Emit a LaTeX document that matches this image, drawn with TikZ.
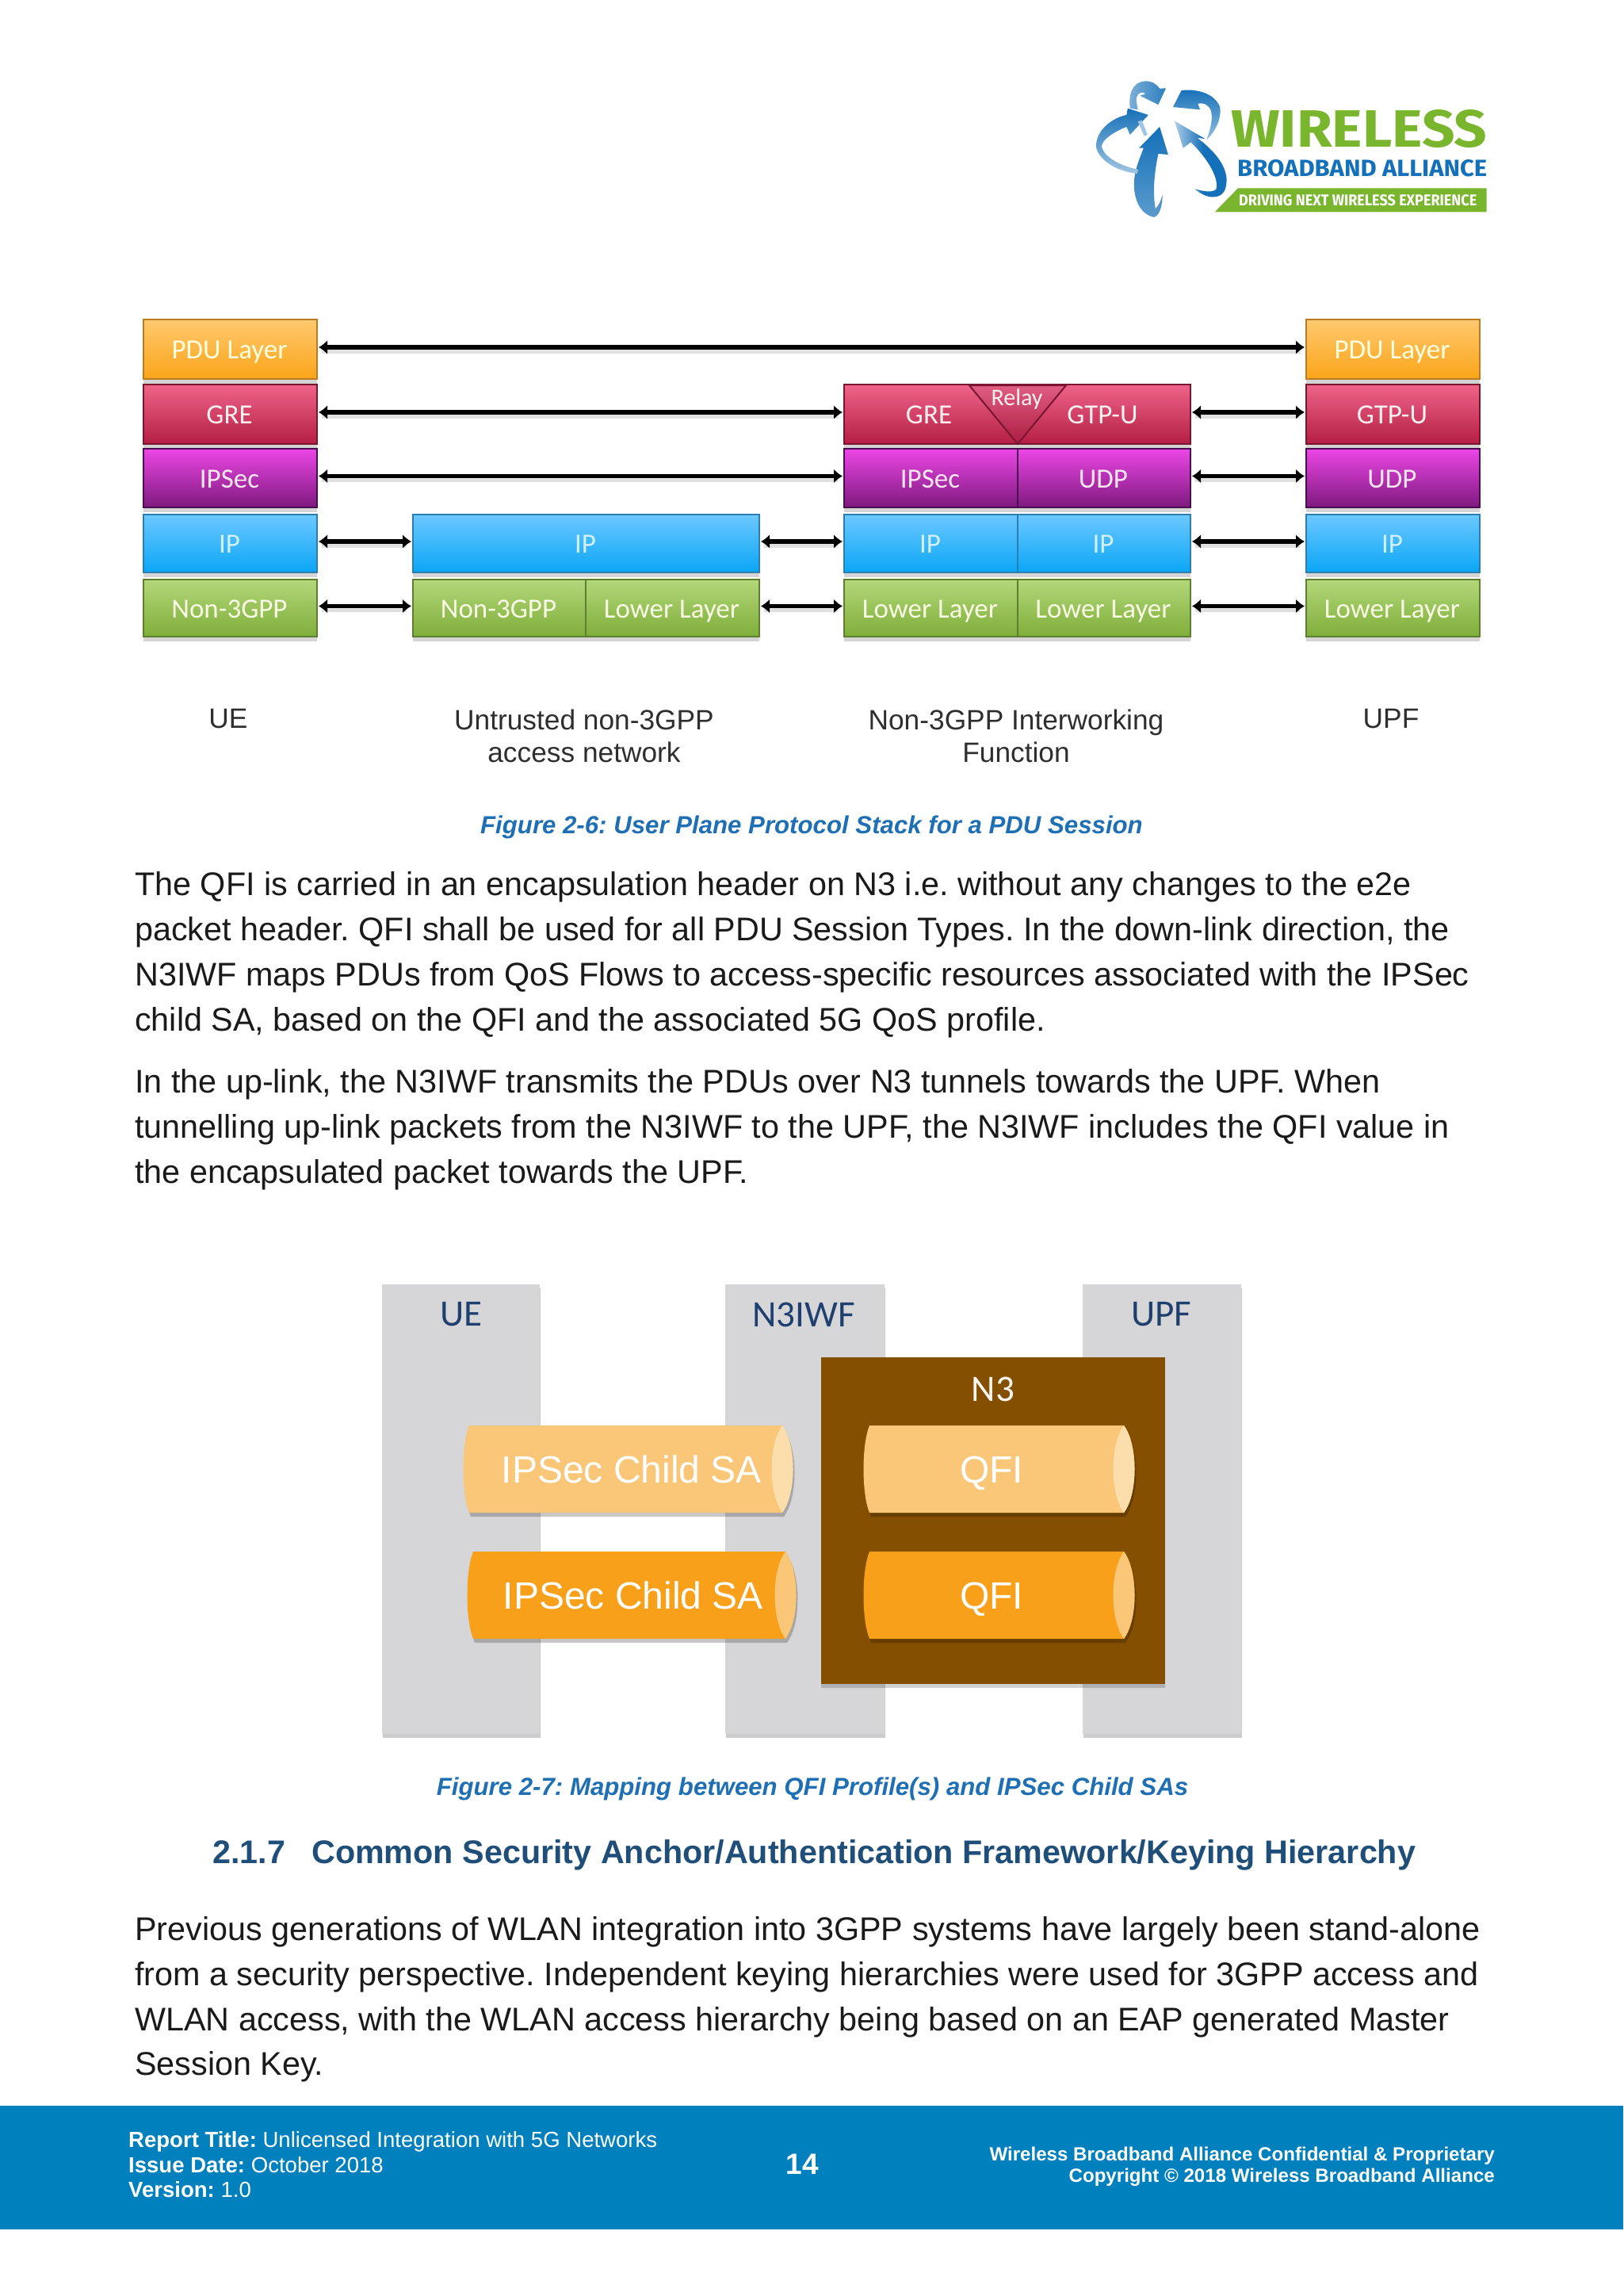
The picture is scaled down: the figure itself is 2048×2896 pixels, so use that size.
\documentclass[tikz,border=0pt]{standalone}
\usepackage{fontspec}
\usepackage{graphicx}
\setmainfont{Liberation Sans}
\newfontfamily\carl{Carlito}
\newfontfamily\logof{Fira Sans}
\usetikzlibrary{arrows.meta,shadows,calc}
\frenchspacing
\definecolor{pduT}{HTML}{FFC96F}\definecolor{pduB}{HTML}{FBA519}\definecolor{pduD}{HTML}{B97C22}
\definecolor{greT}{HTML}{EE6488}\definecolor{greB}{HTML}{B51E45}\definecolor{greD}{HTML}{7A1530}
\definecolor{secT}{HTML}{EC46E6}\definecolor{secB}{HTML}{7E1A7E}\definecolor{secD}{HTML}{4A0E50}
\definecolor{ipT}{HTML}{6CC8FF}\definecolor{ipB}{HTML}{0AA6F6}\definecolor{ipD}{HTML}{2A7FB0}
\definecolor{lowT}{HTML}{B3D77A}\definecolor{lowB}{HTML}{7FAE3A}\definecolor{lowD}{HTML}{5F7F30}
\definecolor{capblue}{HTML}{1E6FB4}\definecolor{headblue}{HTML}{1F4E79}\definecolor{footblue}{HTML}{0080BC}
\definecolor{panel}{HTML}{D6D6D9}\definecolor{brownbox}{HTML}{845000}\definecolor{navy}{HTML}{1F3F6E}
\definecolor{cylA}{HTML}{FAC678}\definecolor{cylAe}{HTML}{FCDDAC}\definecolor{cylB}{HTML}{F9A01B}\definecolor{cylBe}{HTML}{FAC678}
\definecolor{logoblue}{HTML}{1470B8}\definecolor{logogreen}{HTML}{7AB52E}\definecolor{bodyink}{HTML}{1A1A1A}
\tikzset{
  x=1pt,y=-1pt,
  stackfont/.style={font=\carl\fontsize{35}{35}\selectfont,text height=26pt,text depth=2pt},
  stackbase/.style={rectangle,inner sep=0pt,outer sep=0pt,line width=2pt,anchor=north west,stackfont,
    drop shadow={shadow xshift=0pt,shadow yshift=-6pt,opacity=.17,fill=black}},
  pdubox/.style={stackbase,draw=pduD,top color=pduT,bottom color=pduB,text=yellow!12},
  grebox/.style={stackbase,draw=greD,top color=greT,bottom color=greB,text=red!6},
  secbox/.style={stackbase,draw=secD,top color=secT,bottom color=secB,text=magenta!10},
  ipbox/.style={stackbase,draw=ipD,top color=ipT,bottom color=ipB,text=cyan!18},
  lowbox/.style={stackbase,draw=lowD,top color=lowT,bottom color=lowB,text=yellow!12!lime!10},
  bidi/.style={line width=5.5pt,black,{Latex[length=11pt,width=18pt]}-{Latex[length=11pt,width=18pt]}},
  bidishadow/.style={line width=6pt,black,opacity=.12},
  panelbox/.style={rectangle,inner sep=0pt,outer sep=0pt,anchor=north west,fill=panel,
    drop shadow={shadow xshift=1pt,shadow yshift=-5pt,opacity=.2,fill=black}},
  brownpanel/.style={rectangle,inner sep=0pt,outer sep=0pt,anchor=north west,fill=brownbox,
    drop shadow={shadow xshift=0pt,shadow yshift=-5pt,opacity=.18,fill=black}},
  bodytext/.style={anchor=base west,inner sep=0pt,text=bodyink,font=\fontsize{41.33}{41.33}\selectfont},
  figcap/.style={anchor=center,inner sep=0pt,text=capblue,font=\bfseries\itshape\fontsize{31.2}{31.2}\selectfont},
  lbl/.style={anchor=center,inner sep=0pt,text=black!82,align=center,font=\fontsize{35.3}{41}\selectfont},
  sttl/.style={anchor=center,inner sep=0pt,text=navy,font=\carl\fontsize{47}{47}\selectfont},
  cyltxt/.style={anchor=center,inner sep=0pt,text=white,font=\fontsize{48}{48}\selectfont,text height=36pt,text depth=2pt},
  foot/.style={anchor=base west,inner sep=0pt,text=white,font=\fontsize{27.55}{27.55}\selectfont},
  footr/.style={anchor=base east,inner sep=0pt,text=white,font=\bfseries\fontsize{24.1}{24.1}\selectfont},
  logotxt/.style={anchor=south west,inner sep=0pt},
}
\newcommand\stackbox[7]{\node[#6,minimum width=\the\numexpr#4-#2\relax pt,minimum height=\the\numexpr#5-#3\relax pt] (#1) at (#2,#3) {\kern-2pt #7};}
\newcommand\bidiarrow[2]{%
  \draw[bidishadow] ([shift={(6pt,-2pt)}]#1.east) -- ([shift={(-8pt,-2pt)}]#2.west);
  \draw[bidi] ([shift={(2pt,2.5pt)}]#1.east) -- ([shift={(-2pt,2.5pt)}]#2.west);}
\newcommand\cyl[6]{% x1, xc(end centre), y1, y2, body, end
  \pgfmathsetmacro\cA{#1+10}\pgfmathsetmacro\cH{#4-#3}
  \pgfmathsetmacro\cU{#3+.22*\cH}\pgfmathsetmacro\cL{#3+.78*\cH}
  \pgfmathsetmacro\cR{#2+18}\pgfmathsetmacro\cQ{#2-18}
  \fill[black,opacity=.22,shift={(2pt,-5pt)}] (\cA,#3) -- (#2,#3) .. controls (\cR,\cU) and (\cR,\cL) .. (#2,#4) -- (\cA,#4) .. controls (#1,\cL) and (#1,\cU) .. (\cA,#3) -- cycle;
  \fill[#5] (\cA,#3) -- (#2,#3) .. controls (\cR,\cU) and (\cR,\cL) .. (#2,#4) -- (\cA,#4) .. controls (#1,\cL) and (#1,\cU) .. (\cA,#3) -- cycle;
  \fill[#6] (#2,#3) .. controls (\cR,\cU) and (\cR,\cL) .. (#2,#4) .. controls (\cQ,\cL) and (\cQ,\cU) .. (#2,#3) -- cycle;}
\begin{document}
\begin{tikzpicture}
\useasboundingbox (0,0) rectangle (2048,2896);
\fill[white] (0,0) rectangle (2048,2896);
% ---- logo
\begin{scope}[shift={(1340pt,-70pt)},xscale=0.357,yscale=0.3333]
\shade[top color=logoblue,bottom color=logoblue!70] (345,270) -- (375,375) -- (340,372) .. controls (325,450) and (320,520) .. (330,580) .. controls (340,570) and (350,550) .. (355,525) .. controls (355,570) and (345,605) .. (325,612) .. controls (270,600) and (250,530) .. (255,470) .. controls (260,420) and (275,390) .. (288,350) -- (272,350) -- cycle;
\shade[left color=logoblue!35,right color=logoblue,middle color=logoblue] (398,248) -- (505,315) -- (478,312) .. controls (550,370) and (600,440) .. (575,510) .. controls (560,545) and (510,545) .. (470,505) .. controls (500,515) and (535,520) .. (545,505) .. controls (555,460) and (510,385) .. (455,328) -- (428,350) -- cycle;
\shade[top color=logoblue,bottom color=logoblue!45] (392,195) -- (422,132) .. controls (480,125) and (540,145) .. (558,195) .. controls (565,240) and (540,290) .. (510,320) .. controls (525,280) and (535,235) .. (525,205) .. controls (515,185) and (500,178) .. (480,182) -- (488,205) -- cycle;
\shade[top color=logoblue,bottom color=logoblue!40] (305,225) -- (240,300) -- (228,270) .. controls (180,290) and (140,320) .. (140,345) .. controls (150,390) and (215,420) .. (270,432) -- (265,447) .. controls (200,440) and (130,400) .. (120,345) .. controls (120,280) and (180,235) .. (228,225) -- (232,200) -- cycle;
\shade[left color=logoblue!55,right color=logoblue!90] (367,124) -- (340,186) -- (275,152) -- (295,145) .. controls (275,130) and (262,150) .. (262,170) -- (268,205) -- (240,200) .. controls (235,150) and (245,100) .. (295,97) .. controls (320,97) and (335,110) .. (345,125) -- cycle;
\fill[logoblue!40] (268,250) -- (282,245) -- (302,300) -- (290,305) -- cycle;
\fill[logogreen] (540,592) -- (622,502) -- (1500,502) -- (1500,592) -- cycle;
\end{scope}
\node[logotxt] (logow) at (1553,187) {\resizebox{323pt}{47pt}{\logof\bfseries\color{logogreen}WIRELESS}};
\node[logotxt] (logob) at (1561,223) {\resizebox{315pt}{21pt}{\logof\bfseries\color{logoblue}BROADBAND ALLIANCE}};
\node[logotxt] (logod) at (1563,260) {\resizebox{300pt}{14pt}{\logof\bfseries\color{white}DRIVING NEXT WIRELESS EXPERIENCE}};
% ---- figure 2-6
\stackbox{uepdu}{181}{403}{400}{478}{pdubox}{PDU Layer}
\stackbox{uegre}{181}{485}{400}{560}{grebox}{GRE}
\stackbox{uesec}{181}{566}{400}{640}{secbox}{IPSec}
\stackbox{ueip}{181}{649}{400}{722}{ipbox}{IP}
\stackbox{uelow}{181}{731}{400}{803}{lowbox}{Non-3GPP}
\stackbox{anip}{521}{649}{958}{722}{ipbox}{IP}
\stackbox{anlowa}{521}{731}{739}{803}{lowbox}{Non-3GPP}
\stackbox{anlowb}{739}{731}{958}{803}{lowbox}{Lower Layer}
\stackbox{ngre}{1065}{485}{1502}{560}{grebox}{}
\draw[greD,line width=2pt,fill=black,fill opacity=.05] (1223,486) -- (1284,560) -- (1345,486) -- cycle;
\node[anchor=center,inner sep=0pt,text=red!6,font=\carl\fontsize{30}{30}\selectfont] (relay) at (1283,503) {Relay};
\node[anchor=center,inner sep=0pt,text=red!6,stackfont] (ngretxt) at (1172,522) {GRE};
\node[anchor=center,inner sep=0pt,text=red!6,stackfont] (ngtptxt) at (1391,522) {GTP-U};
\stackbox{nseca}{1065}{566}{1284}{640}{secbox}{IPSec}
\stackbox{nsecb}{1284}{566}{1502}{640}{secbox}{UDP}
\stackbox{nipa}{1065}{649}{1284}{722}{ipbox}{IP}
\stackbox{nipb}{1284}{649}{1502}{722}{ipbox}{IP}
\stackbox{nlowa}{1065}{731}{1284}{803}{lowbox}{Lower Layer}
\stackbox{nlowb}{1284}{731}{1502}{803}{lowbox}{Lower Layer}
\stackbox{upfpdu}{1648}{403}{1867}{478}{pdubox}{PDU Layer}
\stackbox{upfgre}{1648}{485}{1867}{560}{grebox}{GTP-U}
\stackbox{upfudp}{1648}{566}{1867}{640}{secbox}{UDP}
\stackbox{upfip}{1648}{649}{1867}{722}{ipbox}{IP}
\stackbox{upflow}{1648}{731}{1867}{803}{lowbox}{Lower Layer}
\bidiarrow{uepdu}{upfpdu}
\bidiarrow{uegre}{ngre}
\bidiarrow{uesec}{nseca}
\bidiarrow{ueip}{anip}
\bidiarrow{uelow}{anlowa}
\bidiarrow{anip}{nipa}
\bidiarrow{anlowb}{nlowa}
\bidiarrow{ngre}{upfgre}
\bidiarrow{nsecb}{upfudp}
\bidiarrow{nipb}{upfip}
\bidiarrow{nlowb}{upflow}
\node[lbl] (lue) at (288,907) {UE};
\node[lbl] (lan) at (737,928) {Untrusted non-3GPP\\access network};
\node[lbl] (ln3) at (1282,928) {Non-3GPP Interworking\\Function};
\node[lbl] (lupf) at (1755,907) {UPF};
\node[figcap] (cap6) at (1024,1043) {Figure 2-6: User Plane Protocol Stack for a PDU Session};
% ---- body 1
\node[bodytext] (b1) at (170,1129) {The QFI is carried in an encapsulation header on N3 i.e. without any changes to the e2e};
\node[bodytext] (b2) at (170,1186) {packet header. QFI shall be used for all PDU Session Types. In the down-link direction, the};
\node[bodytext] (b3) at (170,1243) {N3IWF maps PDUs from QoS Flows to access-specific resources associated with the IPSec};
\node[bodytext] (b4) at (170,1300) {child SA, based on the QFI and the associated 5G QoS profile.};
\node[bodytext] (b5) at (170,1378) {In the up-link, the N3IWF transmits the PDUs over N3 tunnels towards the UPF. When};
\node[bodytext] (b6) at (170,1435) {tunnelling up-link packets from the N3IWF to the UPF, the N3IWF includes the QFI value in};
\node[bodytext] (b7) at (170,1492) {the encapsulated packet towards the UPF.};
% ---- figure 2-7
\node[panelbox,minimum width=199pt,minimum height=567pt] (pue) at (482,1620) {};
\node[panelbox,minimum width=201pt,minimum height=567pt] (pn3iwf) at (915,1620) {};
\node[panelbox,minimum width=200pt,minimum height=567pt] (pupf) at (1366,1620) {};
\node[brownpanel,minimum width=434pt,minimum height=412pt] (pn3) at (1036,1712) {};
\node[sttl] (tue) at (582,1658) {UE};
\node[sttl] (tn3iwf) at (1014,1658) {N3IWF};
\node[sttl] (tupf) at (1465,1658) {UPF};
\node[sttl,text=white!92!brown] (tn3) at (1253,1752) {N3};
\cyl{582}{987}{1798}{1908}{cylA}{cylAe}
\cyl{587}{991}{1957}{2067}{cylB}{cylBe}
\cyl{1087}{1418}{1798}{1908}{cylA}{cylAe}
\cyl{1087}{1418}{1957}{2067}{cylB}{cylBe}
\node[cyltxt] (c1) at (797,1853) {IPSec Child SA};
\node[cyltxt] (c2) at (799,2012) {IPSec Child SA};
\node[cyltxt] (c3) at (1251,1853) {QFI};
\node[cyltxt] (c4) at (1251,2012) {QFI};
\node[figcap] (cap7) at (1025,2256) {Figure 2-7: Mapping between QFI Profile(s) and IPSec Child SAs};
\node[anchor=base west,inner sep=0pt,text=headblue,font=\bfseries\fontsize{41.3}{41.3}\selectfont] (hnum) at (268,2350) {2.1.7};
\node[anchor=base west,inner sep=0pt,text=headblue,font=\bfseries\fontsize{41.3}{41.3}\selectfont] (htxt) at (393,2350) {Common Security Anchor/Authentication Framework/Keying Hierarchy};
\node[bodytext] (b8) at (170,2447) {Previous generations of WLAN integration into 3GPP systems have largely been stand-alone};
\node[bodytext] (b9) at (170,2504) {from a security perspective. Independent keying hierarchies were used for 3GPP access and};
\node[bodytext] (b10) at (170,2561) {WLAN access, with the WLAN access hierarchy being based on an EAP generated Master};
\node[bodytext] (b11) at (170,2617) {Session Key.};
% ---- footer
\fill[footblue] (0,2656) rectangle (2048,2812);
\node[foot] (f1) at (162,2708) {\textbf{Report Title:} Unlicensed Integration with 5G Networks};
\node[foot] (f2) at (162,2740) {\textbf{Issue Date:} October 2018};
\node[foot] (f3) at (162,2771) {\textbf{Version:} 1.0};
\node[anchor=center,inner sep=0pt,text=white,font=\bfseries\fontsize{37}{37}\selectfont] (pg) at (1012,2730) {14};
\node[footr] (f4) at (1886,2725) {Wireless Broadband Alliance Confidential \& Proprietary};
\node[footr] (f5) at (1886,2752) {Copyright © 2018 Wireless Broadband Alliance};
\end{tikzpicture}
\end{document}
